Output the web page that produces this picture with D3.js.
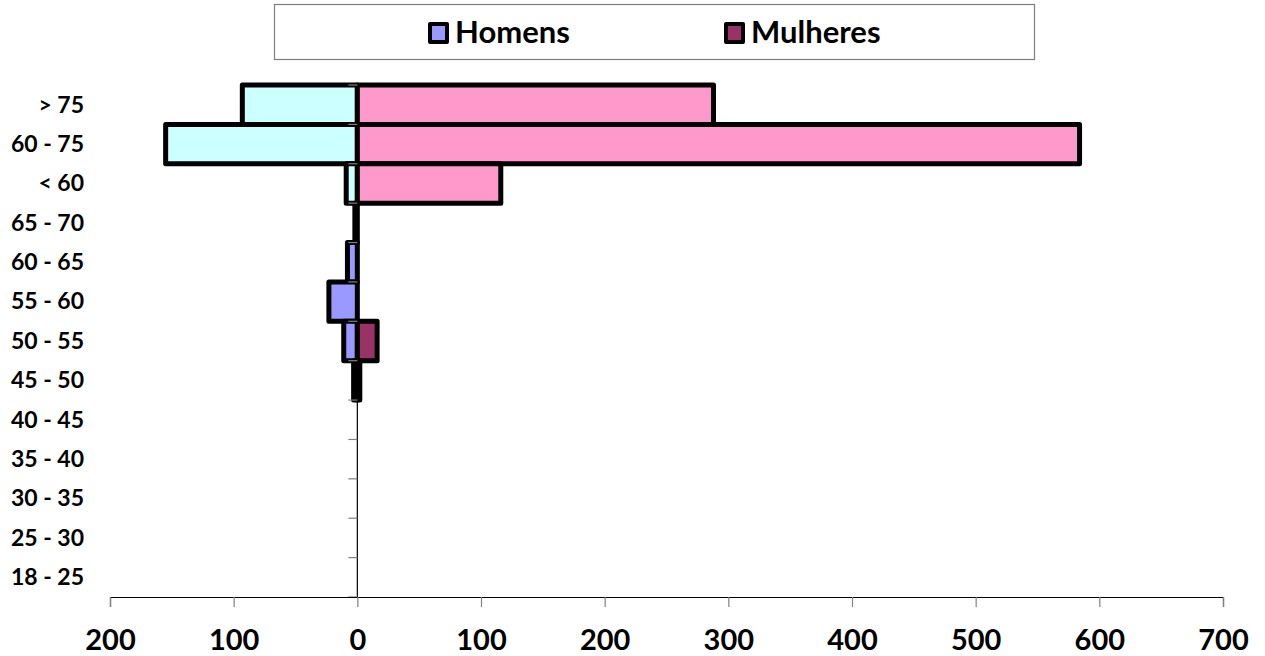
<!DOCTYPE html>
<html>
<head>
<meta charset="utf-8">
<script src="https://cdn.jsdelivr.net/npm/d3@7"></script>
<style>
  html, body { margin: 0; padding: 0; background: #fff; }
  svg { display: block; font-family: Lato, "Open Sans", sans-serif; font-weight: bold; }
</style>
</head>
<body>
<svg id="chart" width="1265" height="656"></svg>
<script>
// Age groups, top to bottom
const categories = ["> 75", "60 - 75", "< 60", "65 - 70", "60 - 65", "55 - 60", "50 - 55",
                    "45 - 50", "40 - 45", "35 - 40", "30 - 35", "25 - 30", "18 - 25"];
// Counts per age group (null = no entry)
const homens   = [93, 155, 9, 2, 8, 23, 11, 3, null, null, null, null, null];
const mulheres = [288, 584, 116, 0, 0, 0, 16, 2, null, null, null, null, null];
const seriesNames = ["Homens", "Mulheres"];
const xTicks = [-200, -100, 0, 100, 200, 300, 400, 500, 600, 700];

// Summary rows get their own fill colours
const summaryRows = new Set(["> 75", "60 - 75", "< 60"]);
const fills = {
  Homens:   { base: "#9999FF", summary: "#CCFFFF" },
  Mulheres: { base: "#993366", summary: "#FF99CC" }
};

const svg = d3.select("#chart");
const plot = { left: 110, right: 1223, top: 85, bottom: 597 };

const x = d3.scaleLinear().domain([-200, 700]).range([plot.left, plot.right]);
const y = d3.scaleBand().domain(categories).range([plot.top, plot.bottom]).padding(0);

// Bars: men extend left of zero, women to the right
const rows = categories.map((c, i) => ({ cat: c, Homens: homens[i], Mulheres: mulheres[i] }));
const barG = svg.append("g");
seriesNames.forEach(name => {
  const sign = name === "Homens" ? -1 : 1;
  barG.selectAll(null)
    .data(rows.filter(r => r[name] !== null))
    .join("rect")
    .attr("x", d => Math.min(x(0), x(sign * d[name])))
    .attr("width", d => Math.abs(x(sign * d[name]) - x(0)))
    .attr("y", d => y(d.cat))
    .attr("height", y.bandwidth())
    .attr("fill", d => summaryRows.has(d.cat) ? fills[name].summary : fills[name].base)
    .attr("stroke", "#000")
    .attr("stroke-width", 5)
    .attr("stroke-linejoin", "round");
});

// Vertical category axis at zero
const yAxis = svg.append("g").attr("transform", `translate(${x(0)},0)`);
yAxis.append("line")
  .attr("x1", 0).attr("x2", 0)
  .attr("y1", plot.top).attr("y2", plot.bottom)
  .attr("stroke", "#000").attr("stroke-width", 1.2);
const bounds = d3.range(categories.length + 1).map(i => plot.top + i * y.bandwidth());
yAxis.selectAll(".yt")
  .data(bounds)
  .join("line")
  .attr("x1", -9).attr("x2", 0)
  .attr("y1", d => d).attr("y2", d => d)
  .attr("stroke", "#808080").attr("stroke-width", 1.2);

// Category labels on the left
svg.append("g").selectAll("text")
  .data(categories)
  .join("text")
  .attr("x", 84)
  .attr("y", d => y(d) + y.bandwidth() / 2)
  .attr("dy", "0.34em")
  .attr("text-anchor", "end")
  .attr("font-size", 23)
  .attr("fill", "#000")
  .text(d => d);

// Value axis along the bottom
const xAxis = d3.axisBottom(x)
  .tickValues(xTicks)
  .tickSize(10)
  .tickFormat(d => Math.abs(d));
const xg = svg.append("g").attr("transform", `translate(0,${plot.bottom})`).call(xAxis);
xg.select(".domain").attr("stroke", "#000").attr("stroke-width", 1.2);
xg.selectAll(".tick line").attr("stroke", "#808080").attr("stroke-width", 1.2);
xg.selectAll(".tick text")
  .attr("font-family", "Lato, 'Open Sans', sans-serif")
  .attr("font-weight", "bold")
  .attr("font-size", 29)
  .attr("fill", "#000")
  .attr("y", 53)
  .attr("dy", null);

// Legend
const leg = svg.append("g");
leg.append("rect")
  .attr("x", 274.5).attr("y", 4.5).attr("width", 760).attr("height", 55)
  .attr("fill", "#fff").attr("stroke", "#7f7f7f").attr("stroke-width", 1.2);
const legendItems = [
  { name: "Homens", x: 430 },
  { name: "Mulheres", x: 726 }
];
legendItems.forEach(it => {
  leg.append("rect")
    .attr("x", it.x).attr("y", 24).attr("width", 17).attr("height", 18)
    .attr("fill", fills[it.name].base)
    .attr("stroke", "#000").attr("stroke-width", 4)
    .attr("stroke-linejoin", "round");
  leg.append("text")
    .attr("x", it.x + 25).attr("y", 43)
    .attr("font-size", 31)
    .attr("fill", "#000")
    .text(it.name);
});
</script>
</body>
</html>
